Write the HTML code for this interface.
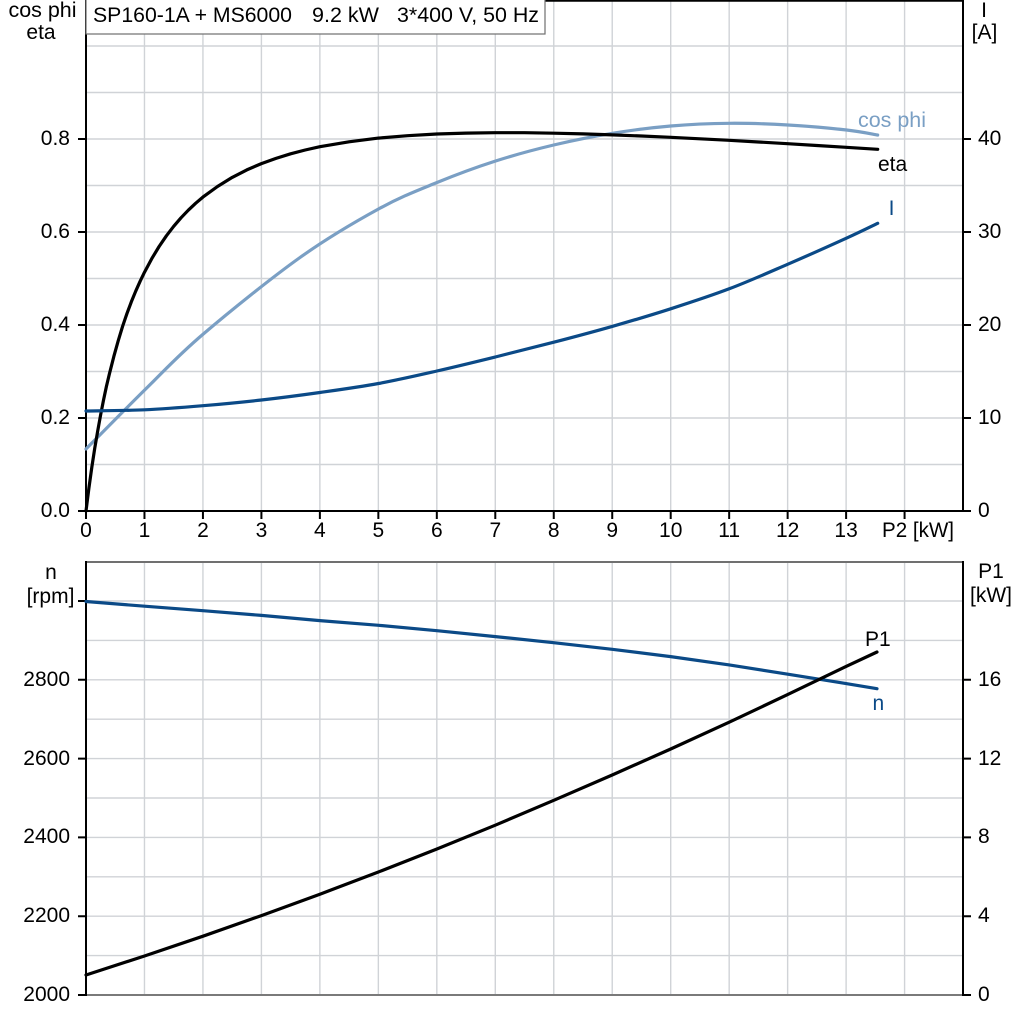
<!DOCTYPE html>
<html><head><meta charset="utf-8"><style>
html,body{margin:0;padding:0;background:#fff;}
svg{display:block;}
text{font-family:"Liberation Sans",Arial,sans-serif;font-size:21px;fill:#000;}
</style></head><body>
<svg width="1024" height="1024" viewBox="0 0 1024 1024" xmlns="http://www.w3.org/2000/svg">
<rect x="0" y="0" width="1024" height="1024" fill="#fff"/>
<!-- grid -->
<g stroke="#d0d3d7" stroke-width="1.4" fill="none">
<path d="M144.47 0V511M202.94 0V511M261.41 0V511M319.88 0V511M378.35 0V511M436.82 0V511M495.29 0V511M553.76 0V511M612.23 0V511M670.7 0V511M729.17 0V511M787.64 0V511M846.11 0V511M904.58 0V511"/>
<path d="M86 46H963M86 92.5H963M86 139H963M86 185.5H963M86 232H963M86 278.5H963M86 325H963M86 371.5H963M86 418H963M86 464.5H963"/>
<path d="M144.47 562V995M202.94 562V995M261.41 562V995M319.88 562V995M378.35 562V995M436.82 562V995M495.29 562V995M553.76 562V995M612.23 562V995M670.7 562V995M729.17 562V995M787.64 562V995M846.11 562V995M904.58 562V995"/>
<path d="M86 601H963M86 640.4H963M86 679.8H963M86 719.2H963M86 758.6H963M86 798H963M86 837.4H963M86 876.8H963M86 916.2H963M86 955.6H963"/>
</g>
<!-- top chart axes -->
<g stroke="#000" stroke-width="2" fill="none">
<path d="M86 0.8H964"/>
<path d="M86 0V512"/>
<path d="M963 0V512"/>
<path d="M78 511H971"/>
<path d="M78 139H86M78 232H86M78 325H86M78 418H86"/>
<path d="M963 139H971M963 232H971M963 325H971M963 418H971"/>
<path d="M86 511V519M144.47 511V519M202.94 511V519M261.41 511V519M319.88 511V519M378.35 511V519M436.82 511V519M495.29 511V519M553.76 511V519M612.23 511V519M670.7 511V519M729.17 511V519M787.64 511V519M846.11 511V519M904.58 511V519"/>
</g>
<!-- title box -->
<rect x="86" y="-1" width="459" height="35" fill="#fff" stroke="#6f6f6f" stroke-width="1.2"/>
<text x="93" y="22" textLength="199" lengthAdjust="spacingAndGlyphs">SP160-1A + MS6000</text>
<text x="312" y="22" textLength="67" lengthAdjust="spacingAndGlyphs">9.2 kW</text>
<text x="397" y="22" textLength="142" lengthAdjust="spacingAndGlyphs">3*400 V, 50 Hz</text>
<!-- top labels -->
<text x="42.5" y="17" text-anchor="middle" textLength="68" lengthAdjust="spacingAndGlyphs">cos phi</text>
<text x="41" y="39" text-anchor="middle">eta</text>
<text x="984" y="17" text-anchor="middle">I</text>
<text x="984.5" y="39" text-anchor="middle">[A]</text>
<g text-anchor="end">
<text x="70" y="145">0.8</text>
<text x="70" y="238">0.6</text>
<text x="70" y="331">0.4</text>
<text x="70" y="424">0.2</text>
<text x="70" y="517">0.0</text>
</g>
<g>
<text x="978" y="145">40</text>
<text x="978" y="238">30</text>
<text x="978" y="331">20</text>
<text x="978" y="424">10</text>
<text x="978" y="517">0</text>
</g>
<g text-anchor="middle">
<text x="86" y="537">0</text>
<text x="144.47" y="537">1</text>
<text x="202.94" y="537">2</text>
<text x="261.41" y="537">3</text>
<text x="319.88" y="537">4</text>
<text x="378.35" y="537">5</text>
<text x="436.82" y="537">6</text>
<text x="495.29" y="537">7</text>
<text x="553.76" y="537">8</text>
<text x="612.23" y="537">9</text>
<text x="670.7" y="537">10</text>
<text x="729.17" y="537">11</text>
<text x="787.64" y="537">12</text>
<text x="846.11" y="537">13</text>
</g>
<text x="882" y="537" textLength="72" lengthAdjust="spacingAndGlyphs">P2 [kW]</text>
<!-- top curves -->
<path fill="none" stroke="#7a9fc4" stroke-width="3.2" stroke-linecap="round" d="M86,449 C96.1,438.8 127.15,407.2 146.7,388 C166.25,368.8 177.75,355.75 203.3,334 C228.85,312.25 270.8,278.3 300,257.5 C329.2,236.7 355.67,221.5 378.5,209 C401.33,196.5 417.48,190.5 437,182.5 C456.52,174.5 476.15,167.25 495.6,161 C515.05,154.75 534.25,149.62 553.7,145 C573.15,140.38 592.78,136.47 612.3,133.3 C631.82,130.13 651.28,127.67 670.8,126 C690.32,124.33 709.87,123.47 729.4,123.3 C748.93,123.13 768.48,123.88 788,125 C807.52,126.12 831.55,128.33 846.5,130 C861.45,131.67 872.5,134.17 877.7,135"/>
<polyline fill="none" stroke="#000" stroke-width="3.2" stroke-linejoin="round" stroke-linecap="round" points="86,511 88.9,488.2 91.8,467.4 94.7,448.5 97.7,431 100.6,415 103.5,400.2 106.4,386.5 109.4,373.9 113.8,356.6 118.2,340.8 122.5,326.6 126.9,313.7 131.3,301.9 135.7,291.2 140.1,281.3 144.5,272.2 151.8,258.6 159.1,246.5 166.4,235.8 173.7,226.3 181,217.8 188.3,210.2 195.6,203.3 202.9,197.1 217.5,186.5 232.2,177.4 246.8,169.9 261.4,163.6 276,158.4 290.6,153.8 305.2,150 319.9,146.7 349,141.8 378.4,138.1 407.6,135.7 436.8,134 466,133.1 495.3,132.7 524.5,132.7 553.8,133.2 583,133.9 612.2,134.9 641.5,136 670.7,137.3 700,138.8 729.2,140.3 758.4,142 787.6,143.7 816.8,145.5 846.1,147.3 877.7,149.3"/>
<path fill="none" stroke="#0b4a87" stroke-width="3.2" stroke-linecap="round" d="M86,411 C95.75,410.8 125,410.68 144.5,409.8 C164,408.92 183.5,407.33 203,405.7 C222.5,404.07 241.9,402.2 261.4,400 C280.9,397.8 300.4,395.25 319.9,392.5 C339.4,389.75 358.9,387.08 378.4,383.5 C397.9,379.92 417.4,375.42 436.9,371 C456.4,366.58 475.8,361.8 495.3,357 C514.8,352.2 534.3,347.3 553.8,342.2 C573.3,337.1 592.7,331.97 612.2,326.4 C631.7,320.83 651.2,315.07 670.7,308.8 C690.2,302.53 709.7,296.22 729.2,288.8 C748.7,281.38 768.1,272.72 787.6,264.3 C807.1,255.88 831.08,245.13 846.1,238.3 C861.12,231.47 872.43,225.8 877.7,223.3"/>
<text x="858" y="127" style="fill:#7a9fc4" textLength="68" lengthAdjust="spacingAndGlyphs">cos phi</text>
<text x="878" y="171">eta</text>
<text x="891.5" y="215" text-anchor="middle" style="fill:#0b4a87">I</text>
<!-- bottom chart axes -->
<g fill="none">
<path d="M86 562H963" stroke="#707070" stroke-width="2"/>
<path d="M86 995H963" stroke="#7a7a7a" stroke-width="2"/>
<g stroke="#000" stroke-width="2">
<path d="M86 561V996"/>
<path d="M963 561V996"/>
<path d="M78 601H86M78 679.8H86M78 758.6H86M78 837.4H86M78 916.2H86M78 995H86"/>
<path d="M963 679.8H971M963 758.6H971M963 837.4H971M963 916.2H971M963 995H971"/>
</g>
</g>
<text x="51" y="579" text-anchor="middle">n</text>
<text x="50.5" y="603" text-anchor="middle">[rpm]</text>
<text x="991" y="578" text-anchor="middle">P1</text>
<text x="991" y="602" text-anchor="middle">[kW]</text>
<g text-anchor="end">
<text x="70" y="686">2800</text>
<text x="70" y="765">2600</text>
<text x="70" y="843">2400</text>
<text x="70" y="922">2200</text>
<text x="70" y="1001">2000</text>
</g>
<g>
<text x="978" y="686">16</text>
<text x="978" y="765">12</text>
<text x="978" y="843">8</text>
<text x="978" y="922">4</text>
<text x="978" y="1001">0</text>
</g>
<!-- bottom curves -->
<polyline fill="none" stroke="#0b4a87" stroke-width="3.2" stroke-linejoin="round" stroke-linecap="round" points="86,601.5 144.5,606.2 203,610.7 261.4,615.4 319.9,620.6 378.7,625.3 436.9,630.7 495.5,636.6 553.6,642.7 612.2,649.3 670.7,656.6 729.3,664.9 787.8,674.2 840,682.6 877,688.7"/>
<polyline fill="none" stroke="#000" stroke-width="3.2" stroke-linejoin="round" stroke-linecap="round" points="86,975 144.5,956 203,936.2 261.4,915.6 319.9,894.2 378.4,872 436.9,849 495.3,825.2 553.8,800.3 612.2,775 670.7,749 729.2,722.2 787.6,694.6 846.1,666.4 877,652"/>
<text x="865" y="646">P1</text>
<text x="872.5" y="710" style="fill:#0b4a87">n</text>
</svg>
</body></html>
